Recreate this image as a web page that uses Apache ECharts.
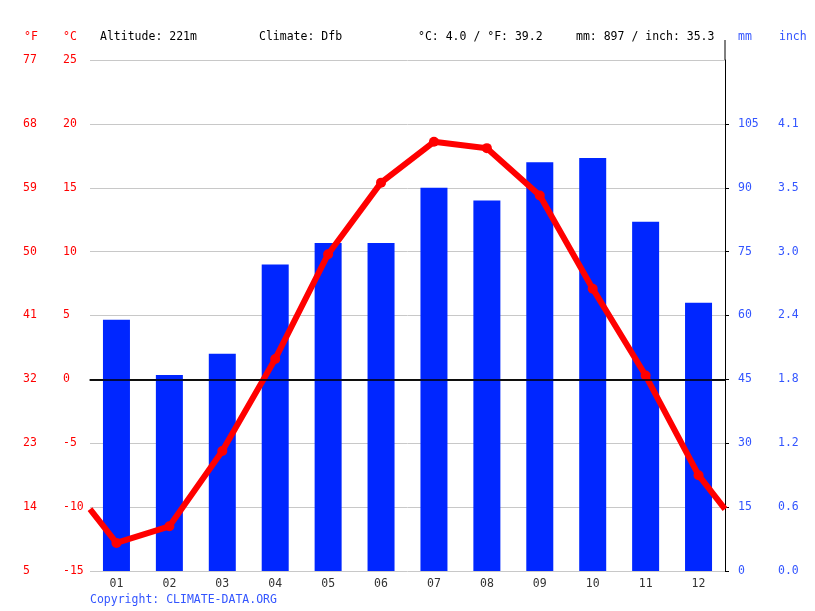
<!DOCTYPE html>
<html>
<head>
    <meta charset="utf-8">
    <title>Climate chart</title>
    <script src="https://cdn.jsdelivr.net/npm/echarts@6/dist/echarts.min.js"></script>
    <style>
        html, body { margin: 0; padding: 0; background: #fff; }
    </style>
</head>
<body>
    <div id="chart" style="width: 815px; height: 611px;"></div>

    <script>
        // data
        const months = ['01', '02', '03', '04', '05', '06', '07', '08', '09', '10', '11', '12'];
        const precipMm = [59, 46, 51, 72, 77, 77, 90, 87, 96, 97, 82, 63];
        const tempC = [-12.8, -11.5, -5.6, 1.6, 9.8, 15.4, 18.6, 18.1, 14.4, 7.1, 0.3, -7.5];

        // tick labels
        const fLabels = ['5', '14', '23', '32', '41', '50', '59', '68', '77'];
        const inchLabels = ['0.0', '0.6', '1.2', '1.8', '2.4', '3.0', '3.5', '4.1', '4.7'];

        const altitude = '221m';
        const climate = 'Dfb';

        const FONT = 'DejaVu Sans Mono';
        const RED = '#ff0000';
        const BLUE = '#0026ff';
        const LABEL_BLUE = '#3355ff';

        // yearly figures for the header
        const meanC = tempC.reduce((a, b) => a + b, 0) / tempC.length;
        const meanF = meanC * 1.8 + 32;
        const totalMm = precipMm.reduce((a, b) => a + b, 0);
        const totalInch = totalMm / 25.4;

        // the line runs out to both plot edges, half way between Dec and Jan
        const edge = (tempC[0] + tempC[11]) / 2;
        const lineData = [{ value: [0, edge], symbol: 'none' }]
            .concat(tempC.map((t, i) => [i + 0.5, t]))
            .concat([{ value: [12, edge], symbol: 'none' }]);

        const chart = echarts.init(document.getElementById('chart'));

        const headText = (x, text, color) => ({
            type: 'text', left: x, top: 31,
            style: { text: text, fill: color, font: '11.5px "' + FONT + '"' }
        });

        const option = {
            animation: false,
            grid: { left: 90, right: 90, top: 60, bottom: 40 },
            xAxis: [
                {
                    type: 'category',
                    data: months,
                    axisLine: { lineStyle: { color: '#000', width: 1.5 } },
                    axisTick: { length: 5, lineStyle: { color: '#000' } },
                    axisLabel: { color: '#333', fontFamily: FONT, fontSize: 11.5, margin: 7 }
                },
                { type: 'value', min: 0, max: 12, show: false }
            ],
            yAxis: [
                {
                    type: 'value', min: -15, max: 25, interval: 5,
                    axisLine: { show: false }, axisTick: { show: false },
                    axisLabel: { color: RED, fontFamily: FONT, fontSize: 11.5, align: 'left', margin: 27 },
                    splitLine: { lineStyle: { color: '#c8c8c8', width: 1 } }
                },
                {
                    type: 'value', min: -15, max: 25, interval: 5, position: 'left',
                    axisLine: { show: false }, axisTick: { show: false },
                    axisLabel: {
                        color: RED, fontFamily: FONT, fontSize: 11.5, align: 'left', margin: 67,
                        formatter: (v, i) => fLabels[i]
                    },
                    splitLine: { show: false }
                },
                {
                    type: 'value', min: 0, max: 120, interval: 15, position: 'right',
                    axisLine: { show: true, lineStyle: { color: '#000', width: 1 } },
                    axisTick: { show: true, length: 4, lineStyle: { color: '#000' } },
                    axisLabel: { color: LABEL_BLUE, fontFamily: FONT, fontSize: 11.5, margin: 13, showMaxLabel: false },
                    splitLine: { show: false }
                },
                {
                    type: 'value', min: 0, max: 120, interval: 15, position: 'right',
                    axisLine: { show: false }, axisTick: { show: false },
                    axisLabel: {
                        color: LABEL_BLUE, fontFamily: FONT, fontSize: 11.5, margin: 53, showMaxLabel: false,
                        formatter: (v, i) => inchLabels[i]
                    },
                    splitLine: { show: false }
                }
            ],
            series: [
                {
                    name: 'Precipitation',
                    type: 'bar',
                    xAxisIndex: 0,
                    yAxisIndex: 2,
                    data: precipMm,
                    barWidth: 27,
                    itemStyle: { color: BLUE },
                    z: 2
                },
                {
                    name: 'zero',
                    type: 'line',
                    xAxisIndex: 1,
                    yAxisIndex: 0,
                    data: [],
                    z: 3,
                    markLine: {
                        silent: true,
                        symbol: 'none',
                        label: { show: false },
                        lineStyle: { color: '#000', width: 1.5, type: 'solid' },
                        data: [{ yAxis: 0 }]
                    }
                },
                {
                    name: 'Temperature',
                    type: 'line',
                    xAxisIndex: 1,
                    yAxisIndex: 0,
                    data: lineData,
                    symbol: 'circle',
                    symbolSize: 10,
                    lineStyle: { color: RED, width: 6 },
                    itemStyle: { color: RED },
                    z: 4
                }
            ],
            graphic: [
                headText(24, '°F', RED),
                headText(63, '°C', RED),
                headText(100, 'Altitude: ' + altitude, '#000'),
                headText(259, 'Climate: ' + climate, '#000'),
                headText(418, '°C: ' + meanC.toFixed(1) + ' / °F: ' + meanF.toFixed(1), '#000'),
                headText(576, 'mm: ' + totalMm + ' / inch: ' + totalInch.toFixed(1), '#000'),
                headText(738, 'mm', LABEL_BLUE),
                headText(779, 'inch', LABEL_BLUE),
                {
                    type: 'text', left: 90, top: 594,
                    style: { text: 'Copyright: CLIMATE-DATA.ORG', fill: LABEL_BLUE, font: '11.5px "' + FONT + '"' }
                }
            ]
        };

        chart.setOption(option);

        // right axis line runs a little above the plot top
        const axisX = chart.convertToPixel({ xAxisIndex: 1 }, 12);
        const axisTop = chart.convertToPixel({ yAxisIndex: 2 }, 120);
        chart.setOption({
            graphic: option.graphic.concat([{
                type: 'line',
                shape: { x1: axisX, y1: axisTop - 20, x2: axisX, y2: axisTop },
                style: { stroke: '#000', lineWidth: 1 }
            }])
        });
    </script>
</body>
</html>
